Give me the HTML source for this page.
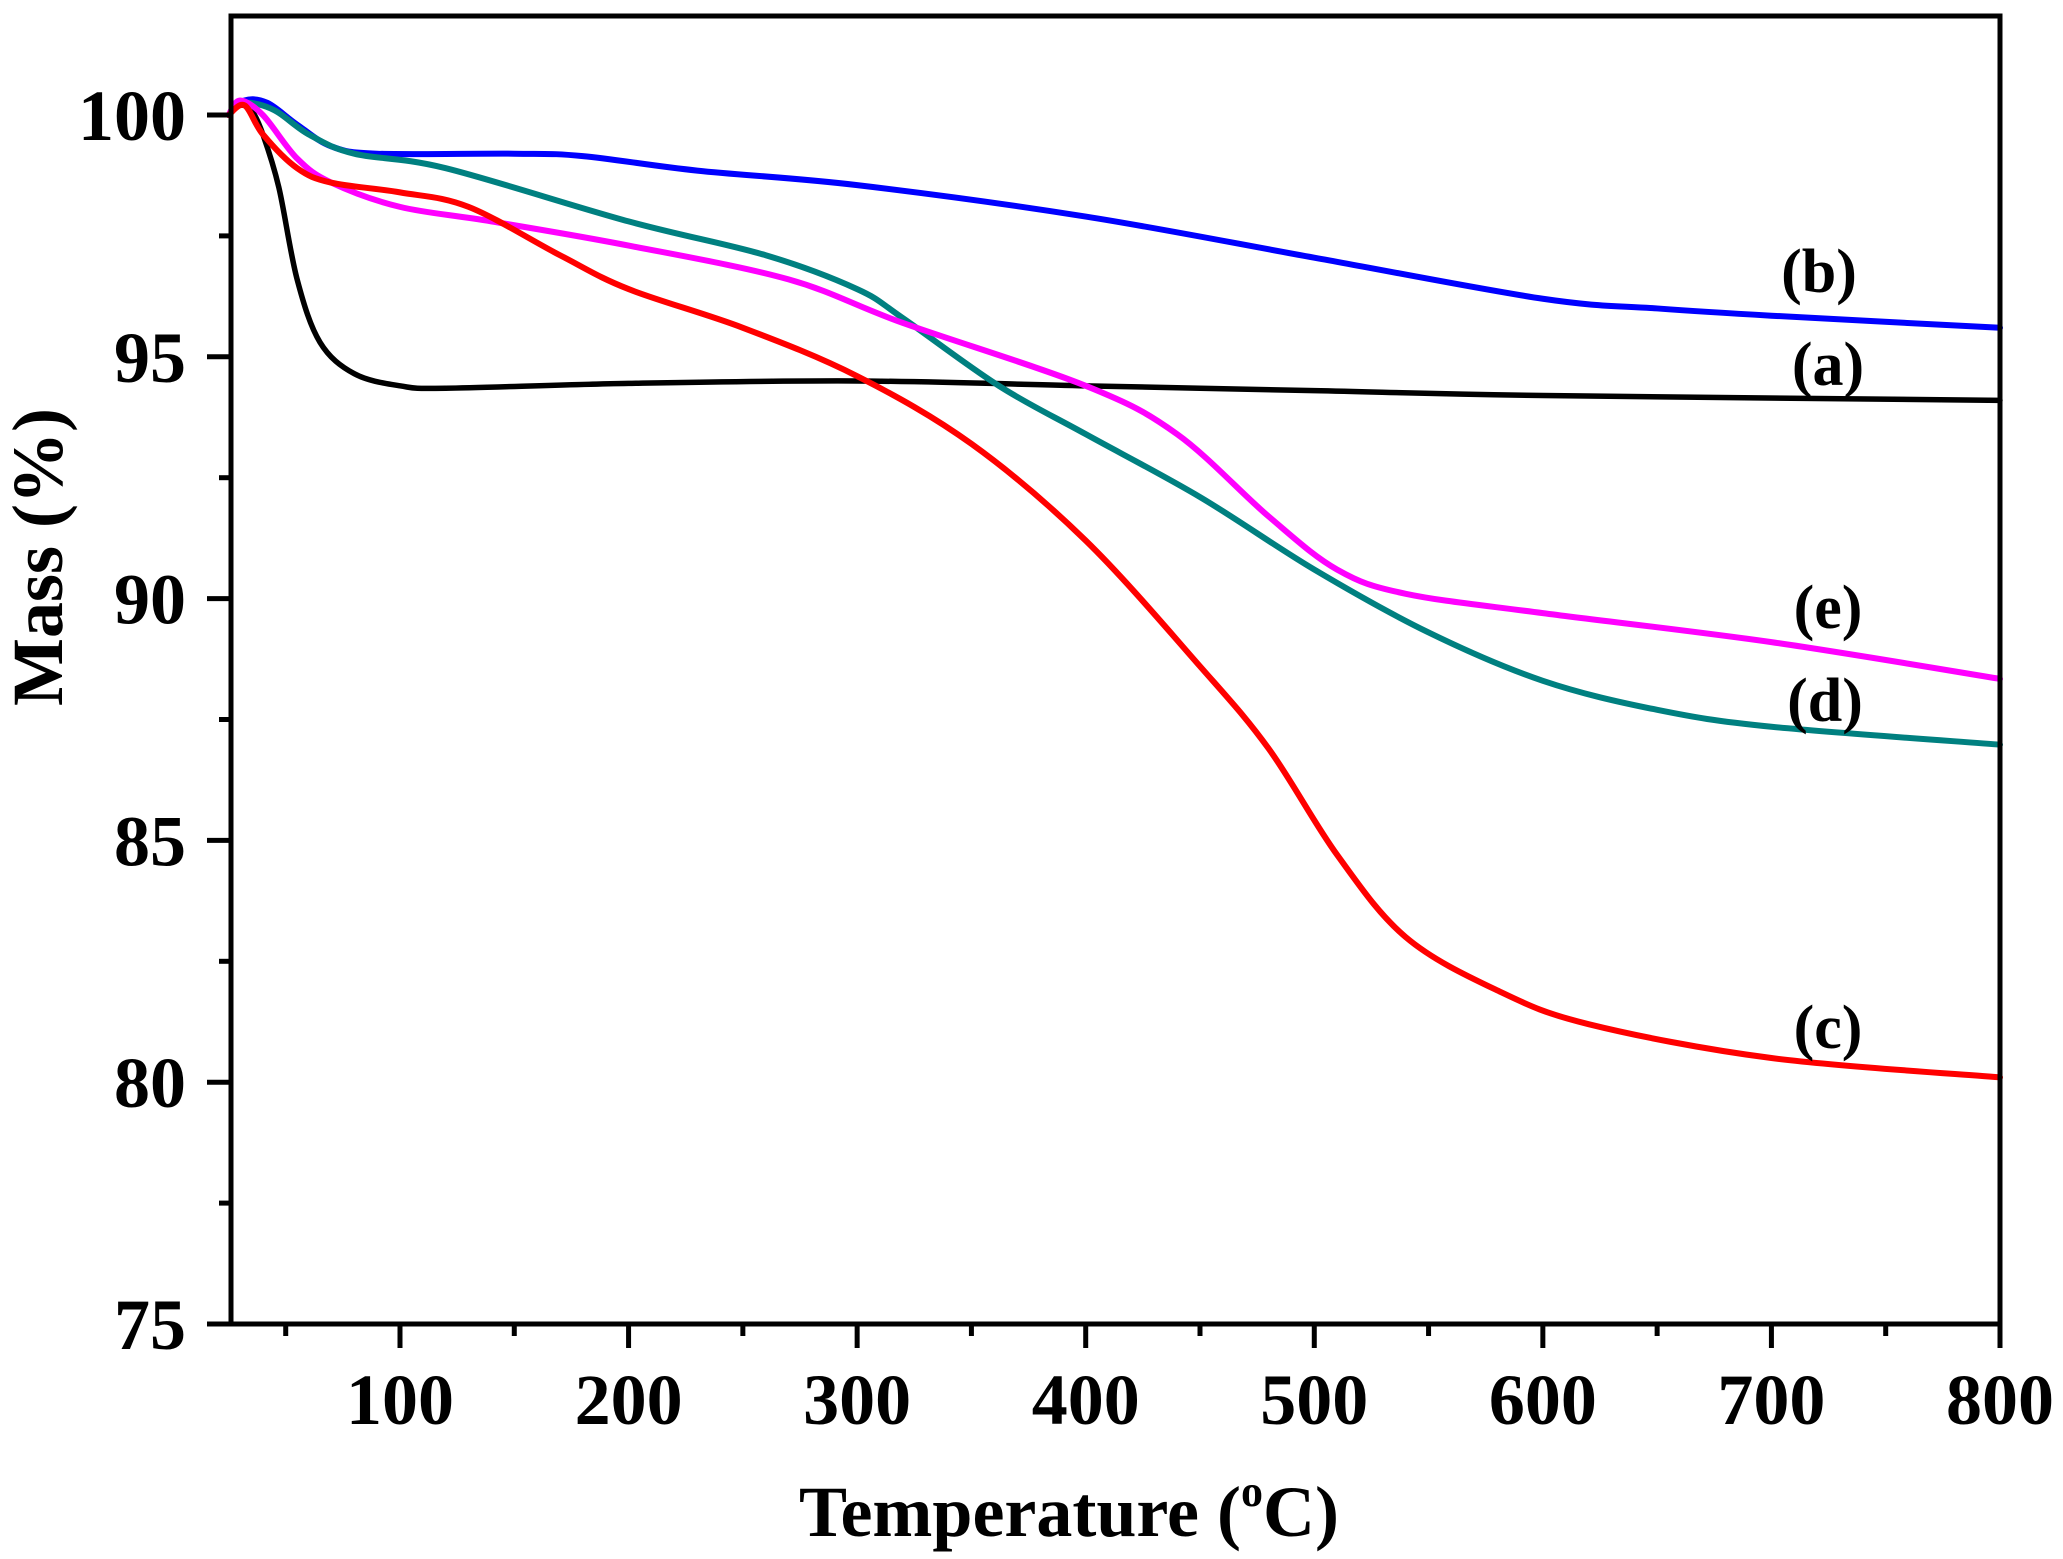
<!DOCTYPE html>
<html><head><meta charset="utf-8"><style>
html,body{margin:0;padding:0;background:#fff;}
svg{display:block;}
text{font-family:"Liberation Serif",serif;font-weight:bold;fill:#000;}
</style></head><body>
<svg id="s" width="2063" height="1559" viewBox="0 0 2063 1559" xmlns="http://www.w3.org/2000/svg">
<rect x="0" y="0" width="2063" height="1559" fill="#fff"/>
<g id="curves" fill="none" stroke-linejoin="round" stroke-linecap="round"></g>
<rect x="231" y="16" width="1769" height="1308" fill="none" stroke="#000" stroke-width="5"/>
<g id="ticks" stroke="#000" stroke-width="5"></g>
<g id="labels" font-size="72"></g>
<text x="1069" y="1536" font-size="72" text-anchor="middle">Temperature (<tspan font-size="44" dy="-30">o</tspan><tspan dy="30">C)</tspan></text>
<text transform="translate(62,557) rotate(-90)" font-size="72" text-anchor="middle">Mass (%)</text>
<g font-size="62" text-anchor="middle">
<text x="1819" y="292">(b)</text>
<text x="1828" y="385">(a)</text>
<text x="1828" y="628">(e)</text>
<text x="1825" y="721">(d)</text>
<text x="1828" y="1048">(c)</text>
</g>
</svg>
<script>
const X=T=>400+(T-100)*2.2857, Y=m=>115+(100-m)*48.36;
const data={
"#000":[[25,100],[30,100.2],[35,100.1],[40,99.6],[47,98.5],[55,96.6],[65,95.3],[80,94.65],[100,94.4],[120,94.35],[200,94.45],[300,94.5],[400,94.4],[500,94.3],[600,94.2],[800,94.1]],
"#0000ff":[[25,100],[32,100.3],[42,100.25],[55,99.8],[70,99.35],[90,99.2],[150,99.2],[180,99.15],[230,98.85],[300,98.55],[400,97.9],[500,97.05],[600,96.2],[650,96.0],[700,95.85],[800,95.6]],
"#008080":[[25,100],[32,100.25],[45,100.1],[60,99.6],[80,99.2],[120,98.9],[200,97.8],[260,97.1],[300,96.4],[320,95.8],[362,94.4],[400,93.4],[450,92.1],[500,90.6],[550,89.3],[600,88.3],[650,87.7],[700,87.35],[800,86.98]],
"#ff00ff":[[25,100],[30,100.3],[40,100.0],[55,99.1],[70,98.6],[100,98.1],[140,97.8],[200,97.3],[270,96.6],[320,95.7],[400,94.4],[440,93.4],[480,91.7],[510,90.6],[540,90.1],[600,89.7],[700,89.1],[800,88.34]],
"#ff0000":[[25,100],[32,100.2],[40,99.6],[55,98.9],[70,98.6],[100,98.4],[130,98.1],[170,97.1],[200,96.4],[250,95.6],[300,94.6],[350,93.2],[400,91.2],[450,88.6],[480,86.9],[510,84.7],[540,83.0],[580,81.9],[620,81.2],[700,80.5],[800,80.1]]
};
const ns="http://www.w3.org/2000/svg";
const cg=document.getElementById("curves");
for(const c in data){
 const p=data[c].map(([t,m])=>[X(t),Y(m)]);
 let d="M"+p[0][0]+","+p[0][1];
 for(let i=0;i<p.length-1;i++){
  const p0=p[i-1]||p[i],p1=p[i],p2=p[i+1],p3=p[i+2]||p2;
  const c1=[p1[0]+(p2[0]-p0[0])/6,p1[1]+(p2[1]-p0[1])/6];
  const c2=[p2[0]-(p3[0]-p1[0])/6,p2[1]-(p3[1]-p1[1])/6];
  d+=`C${c1[0]},${c1[1]} ${c2[0]},${c2[1]} ${p2[0]},${p2[1]}`;
 }
 const e=document.createElementNS(ns,"path");
 e.setAttribute("d",d);e.setAttribute("stroke",c);e.setAttribute("stroke-width",c=="#000"?"5.5":"6");
 cg.appendChild(e);
}
const tg=document.getElementById("ticks"),lg=document.getElementById("labels");
function line(x1,y1,x2,y2){const l=document.createElementNS(ns,"line");l.setAttribute("x1",x1);l.setAttribute("y1",y1);l.setAttribute("x2",x2);l.setAttribute("y2",y2);tg.appendChild(l);}
function txt(x,y,s,a){const t=document.createElementNS(ns,"text");t.setAttribute("x",x);t.setAttribute("y",y);t.setAttribute("text-anchor",a);t.textContent=s;lg.appendChild(t);}
for(let T=50;T<=800;T+=50){const x=X(T);const maj=T%100==0;line(x,1324,x,1324+(maj?24:12));if(maj)txt(x,1424,T,"middle");}
for(let m=75;m<=100;m+=2.5){const y=Y(m);const maj=m%5==0;line(231,y,231-(maj?24:12),y);if(maj)txt(186,y+25,m,"end");}
</script>
</body></html>
